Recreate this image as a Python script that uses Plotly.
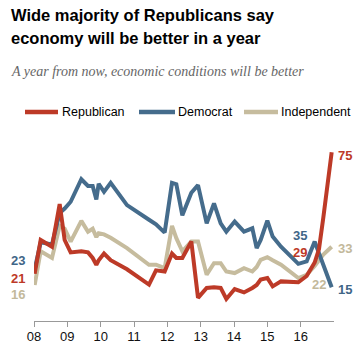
import plotly.graph_objects as go

# Survey dates (decimal years)
dates = [2008.02, 2008.2, 2008.54, 2008.77, 2008.92, 2009.1, 2009.42, 2009.62, 2009.76,
         2009.87, 2009.94, 2010.1, 2010.3, 2010.79, 2011.45, 2011.66, 2011.92, 2012.14,
         2012.27, 2012.45, 2012.72, 2012.92, 2013.18, 2013.4, 2013.6, 2013.77, 2014.02,
         2014.3, 2014.55, 2014.68, 2014.8, 2015.0, 2015.16, 2015.41, 2015.93, 2016.18,
         2016.42, 2016.55, 2016.68, 2016.93]

republican = [21, 36, 33, 52, 36, 30.5, 31, 30.5, 28, 25, 27, 30, 27, 23, 16.2, 22.5, 22, 30,
              28, 28, 35.3, 10.3, 14.7, 15, 14.7, 9.8, 14.2, 12.7, 14.7, 16, 18.4, 19.1, 15.4,
              17.6, 17.2, 20, 26, 32, 46, 75]

democrat = [23, 35, 34, 48, 50, 53, 63, 60, 60, 54, 61, 57.4, 61.4, 51.5, 45, 43, 39.3, 61.4,
            60.8, 47, 57, 60.4, 43.4, 52.3, 43.4, 39.7, 44.2, 39.7, 41.2, 32.4, 36, 44.6, 37.5,
            33, 25.4, 26.5, 35.3, 30, 25, 15]

independent = [16, 31, 28, 42.3, 41, 35.3, 44.5, 39.7, 41, 37.3, 39, 38.5, 37, 32.4, 25, 25,
               23.5, 42.3, 36.8, 31, 35.3, 35.3, 20.6, 25.7, 25.7, 22, 21.3, 23.5, 22, 24,
               27.2, 28.4, 27, 25, 19.1, 20.5, 24.5, 27, 29.5, 33]

tick_vals = [2008, 2009, 2010, 2011, 2012, 2013, 2014, 2015, 2016]
tick_text = ["08", "09", "10", "11", "12", "13", "14", "15", "16"]

X_RANGE = [2008, 2017]
Y_RANGE = [0, 80]

RED = "#bd3a27"
BLUE = "#456c8c"
TAN = "#c6bc9e"
BLUE_T = "#3f6687"
TAN_T = "#c3b99b"

# value labels: (text, x in years, y in %, color)
labels = [
    ("23", 2007.505, 27.0, BLUE_T),
    ("21", 2007.505, 19.1, RED),
    ("16", 2007.505, 11.7, TAN_T),
    ("35", 2015.98, 38.0, BLUE_T),
    ("29", 2015.98, 30.3, RED),
    ("22", 2016.55, 16.1, TAN_T),
    ("75", 2017.33, 73.6, RED),
    ("33", 2017.33, 32.1, TAN_T),
    ("15", 2017.33, 13.9, BLUE_T),
]

series = [("Republican", republican, RED), ("Democrat", democrat, BLUE),
          ("Independent", independent, TAN)]

fig = go.Figure()
for name, vals, col in reversed(series):
    fig.add_trace(go.Scatter(x=dates, y=vals, mode="lines", name=name,
                             line=dict(color=col, width=4), hoverinfo="skip",
                             showlegend=False))

def dx(t):
    return (t - X_RANGE[0]) / (X_RANGE[1] - X_RANGE[0])

def dy(v):
    return (v - Y_RANGE[0]) / (Y_RANGE[1] - Y_RANGE[0])

annotations = []
for txt, x, y, c in labels:
    annotations.append(dict(text=f"<b>{txt}</b>", x=dx(x), y=dy(y), xref="paper", yref="paper",
                            showarrow=False, xanchor="center", yanchor="middle",
                            font=dict(family="Liberation Sans, Arial", size=13, color=c)))

PH = 180.0  # plot height px
PW = 300.0  # plot width px
def py(ypx):
    return (321.0 - ypx) / PH

def px(xpx):
    return (xpx - 34.0) / PW

annotations += [
    dict(text="<b>Wide majority of Republicans say</b>", x=px(9), y=py(14.5), xref="paper",
         yref="paper", showarrow=False, xanchor="left", yanchor="middle",
         font=dict(family="Liberation Sans, Arial", size=16.5, color="#000")),
    dict(text="<b>economy will be better in a year</b>", x=px(9), y=py(38), xref="paper",
         yref="paper", showarrow=False, xanchor="left", yanchor="middle",
         font=dict(family="Liberation Sans, Arial", size=16.5, color="#000")),
    dict(text="<i>A year from now, economic conditions will be better</i>", x=px(9), y=py(71),
         xref="paper", yref="paper", showarrow=False, xanchor="left", yanchor="middle",
         font=dict(family="Liberation Serif, Georgia, serif", size=14, color="#666")),
]

# legend drawn as line samples + labels
legend_pos = [(25, 58, 60), (139, 175, 176), (244, 278, 279)]
shapes = []
for (name, _, col), (x0, x1, xt) in zip(series, legend_pos):
    shapes.append(dict(type="line", xref="paper", yref="paper", x0=px(x0), x1=px(x1),
                       y0=py(112), y1=py(112), line=dict(color=col, width=4.5)))
    annotations.append(dict(text=name, x=px(xt), y=py(112), xref="paper", yref="paper",
                            showarrow=False, xanchor="left", yanchor="middle",
                            font=dict(family="Liberation Sans, Arial", size=12.5, color="#000")))

fig.update_layout(
    width=362, height=350,
    margin=dict(l=34, r=28, t=141, b=29),
    paper_bgcolor="white", plot_bgcolor="white",
    showlegend=False,
    xaxis=dict(range=X_RANGE, tickvals=tick_vals, ticktext=tick_text, showgrid=False,
               zeroline=False, showline=True, linecolor="#999", linewidth=1, ticks="outside",
               ticklen=5, tickcolor="#999", tickwidth=1, ticklabelstandoff=-2, automargin=False,
               tickfont=dict(family="Liberation Sans, Arial", size=13, color="#111")),
    yaxis=dict(range=Y_RANGE, visible=False, showgrid=False, zeroline=False, automargin=False),
    annotations=annotations,
    shapes=shapes,
)

fig.write_html("out.html", config={"displayModeBar": False})
